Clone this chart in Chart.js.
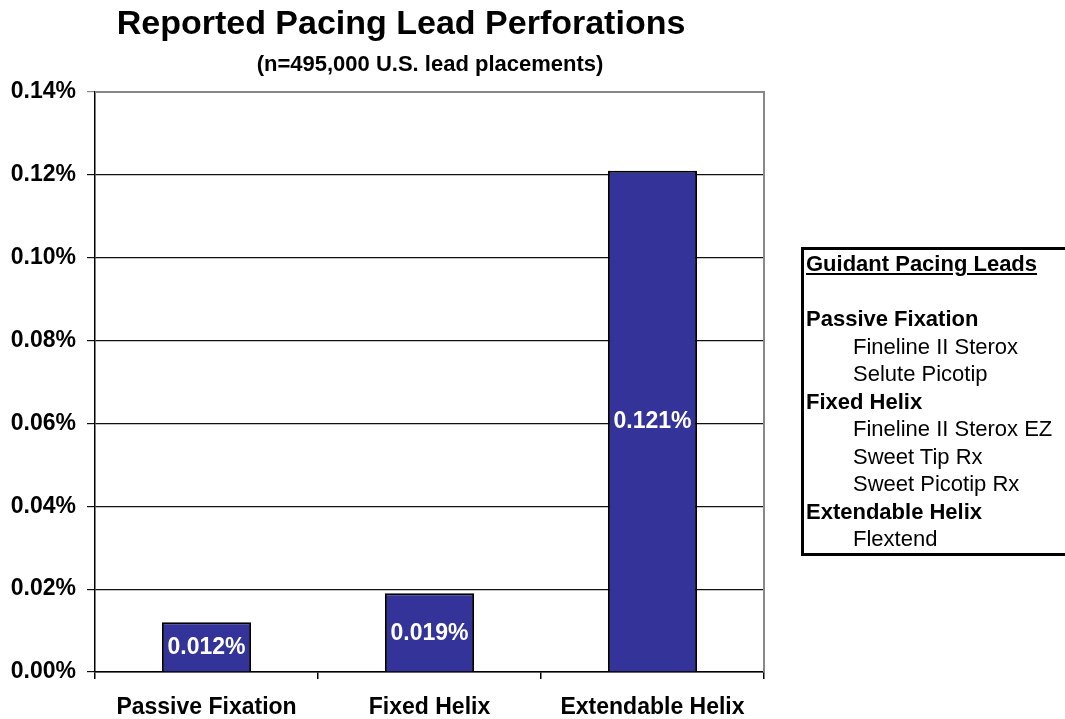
<!DOCTYPE html>
<html>
<head>
<meta charset="utf-8">
<script src="https://cdn.jsdelivr.net/npm/chart.js@4"></script>
<style>
  html, body { margin: 0; padding: 0; background: #fff; overflow: hidden; }
  #wrap { position: relative; width: 1065px; height: 719px; }
  #leads {
    position: absolute; left: 801px; top: 247px; width: 320px;
    border: 3px solid #000; border-right: none;
    font-family: "Liberation Sans", Arial, sans-serif; font-size: 22px;
    line-height: 27.5px; color: #000; padding-left: 2px;
  }
  #leads .hd { font-weight: bold; text-decoration: underline; }
  #leads .grp { font-weight: bold; }
  #leads .it { padding-left: 47px; }
</style>
</head>
<body>
<div id="wrap">
  <canvas id="chart" width="1065" height="719"></canvas>
  <div id="leads"></div>
</div>
<script>
var categories = ['Passive Fixation', 'Fixed Helix', 'Extendable Helix'];
var perforations = [0.012, 0.019, 0.121];   // percent
var yTicks = [0, 0.02, 0.04, 0.06, 0.08, 0.10, 0.12, 0.14];

var leadGroups = ['Passive Fixation', 'Fixed Helix', 'Extendable Helix'];
var leadModels = [
  ['Fineline II Sterox', 'Selute Picotip'],
  ['Fineline II Sterox EZ', 'Sweet Tip Rx', 'Sweet Picotip Rx'],
  ['Flextend']
];

// side text box
var box = document.getElementById('leads');
var html = '<div class="hd">Guidant Pacing Leads</div><div>&nbsp;</div>';
leadGroups.forEach(function (g, i) {
  html += '<div class="grp">' + g + '</div>';
  leadModels[i].forEach(function (m) { html += '<div class="it">' + m + '</div>'; });
});
box.innerHTML = html;

var FONT = '"Liberation Sans", Arial, sans-serif';

var titles = {
  id: 'titles',
  afterDraw: function (chart) {
    var c = chart.ctx;
    c.save();
    c.fillStyle = '#000';
    c.textAlign = 'center';
    c.textBaseline = 'middle';
    c.font = 'bold 34px ' + FONT;
    c.fillText('Reported Pacing Lead Perforations', 401, 25);
    c.font = 'bold 22px ' + FONT;
    c.fillText('(n=495,000 U.S. lead placements)', 430, 65);
    c.restore();
  }
};

var frame = {
  id: 'frame',
  beforeDatasetsDraw: function (chart) {
    var a = chart.chartArea, c = chart.ctx;
    c.save();
    c.strokeStyle = '#888';
    c.lineWidth = 2;
    c.beginPath();
    c.moveTo(a.left, a.top);
    c.lineTo(a.right, a.top);
    c.lineTo(a.right, a.bottom);
    c.stroke();
    c.restore();
  }
};

var barLabels = {
  id: 'barLabels',
  afterDatasetsDraw: function (chart) {
    var c = chart.ctx;
    var meta = chart.getDatasetMeta(0);
    c.save();
    c.fillStyle = '#fff';
    c.font = 'bold 23px ' + FONT;
    c.textAlign = 'center';
    c.textBaseline = 'middle';
    meta.data.forEach(function (bar, i) {
      var mid = (bar.y + bar.base) / 2;
      c.fillText(perforations[i].toFixed(3) + '%', bar.x, mid + 1);
    });
    c.restore();
  }
};

new Chart(document.getElementById('chart').getContext('2d'), {
  type: 'bar',
  data: {
    labels: categories,
    datasets: [{
      data: perforations,
      backgroundColor: '#333399',
      borderColor: '#000',
      borderWidth: 2,
      categoryPercentage: 1,
      barPercentage: 0.4
    }]
  },
  options: {
    responsive: false,
    animation: false,
    layout: { padding: { top: 92, right: 1065 - 764, left: 0, bottom: 0 } },
    plugins: { legend: { display: false }, tooltip: { enabled: false } },
    scales: {
      x: {
        grid: { drawOnChartArea: false, color: '#000', tickLength: 7, lineWidth: 1.5 },
        border: { color: '#000', width: 1.5 },
        ticks: { color: '#000', font: { family: FONT, size: 23, weight: 'bold' }, padding: 15 },
        afterFit: function (s) { s.height = 47; }
      },
      y: {
        min: 0,
        max: 0.14,
        afterBuildTicks: function (s) { s.ticks = yTicks.map(function (v) { return { value: v }; }); },
        grid: {
          color: function (ctx) { return ctx.index === yTicks.length - 1 ? '#888' : '#111'; },
          lineWidth: 1.2,
          tickLength: 8
        },
        border: { color: '#000', width: 1.5 },
        ticks: {
          color: '#000',
          font: { family: FONT, size: 23, weight: 'bold' },
          padding: 11,
          callback: function (v) { return Number(v).toFixed(2) + '%'; }
        },
        afterFit: function (s) { s.width = 95; }
      }
    }
  },
  plugins: [frame, barLabels, titles]
});
</script>
</body>
</html>
